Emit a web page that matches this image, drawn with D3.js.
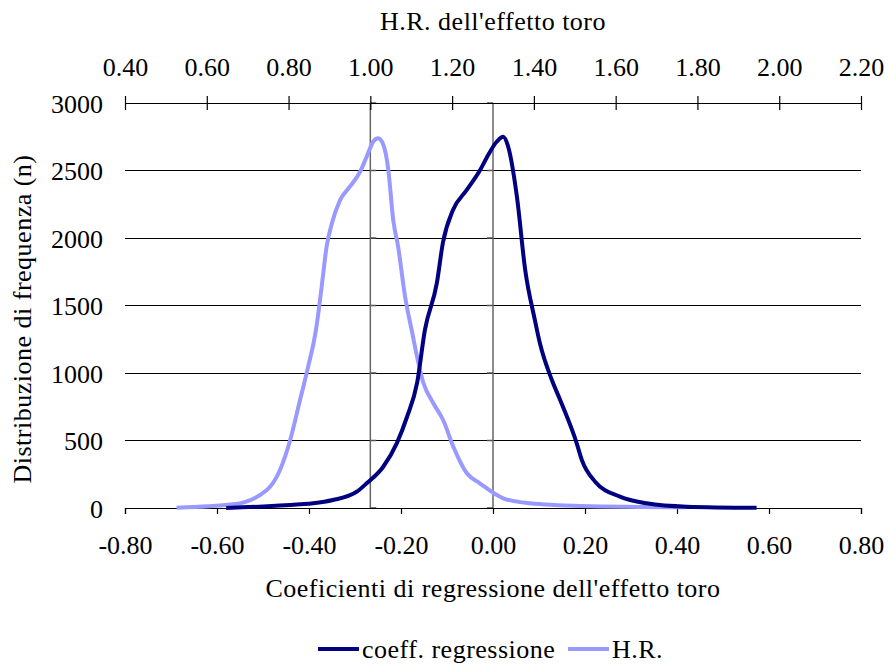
<!DOCTYPE html>
<html>
<head>
<meta charset="utf-8">
<script src="https://cdn.jsdelivr.net/npm/d3@7/dist/d3.min.js"></script>
<style>
  html, body { margin: 0; padding: 0; background: #fff; }
  svg text { font-family: "Liberation Serif", "DejaVu Serif", serif !important; fill: #000; }
  .title { letter-spacing: 0.5px; }
</style>
</head>
<body>
<svg id="chart" width="889" height="666"></svg>
<script>
// Regression coefficient distribution (bottom axis)
const coefX = [-0.58, -0.42, -0.391, -0.348, -0.296, -0.274, -0.239, -0.209, -0.187, -0.165, -0.148, -0.122, -0.109, -0.087, -0.057, -0.028, -0.014, 0.008, 0.022, 0.033, 0.052, 0.070, 0.091, 0.102, 0.128, 0.146, 0.182, 0.193, 0.222, 0.276, 0.334, 0.421, 0.573];
const coefN = [0, 27, 35, 59, 121, 185, 304, 481, 674, 926, 1319, 1667, 1963, 2207, 2356, 2504, 2593, 2713, 2750, 2676, 2306, 1763, 1393, 1220, 948, 800, 479, 356, 195, 84, 35, 10, 2];

// Hazard ratio distribution (top axis)
const hrX = [0.526, 0.665, 0.747, 0.779, 0.804, 0.828, 0.848, 0.867, 0.881, 0.893, 0.906, 0.926, 0.950, 0.975, 0.991, 1.007, 1.019, 1.032, 1.044, 1.056, 1.068, 1.085, 1.101, 1.130, 1.154, 1.178, 1.203, 1.236, 1.268, 1.325, 1.39, 1.513, 1.774];
const hrN = [2, 27, 133, 281, 504, 800, 1047, 1319, 1639, 1935, 2109, 2281, 2380, 2491, 2602, 2713, 2738, 2689, 2504, 2133, 1935, 1565, 1319, 924, 776, 652, 454, 257, 183, 72, 35, 15, 5];

const bottomTicks = [-0.8, -0.6, -0.4, -0.2, 0, 0.2, 0.4, 0.6, 0.8];
const topTicks = [0.4, 0.6, 0.8, 1.0, 1.2, 1.4, 1.6, 1.8, 2.0, 2.2];
const yTicks = [0, 500, 1000, 1500, 2000, 2500, 3000];

const seriesNames = ["coeff. regressione", "H.R."];
const seriesColors = ["#000080", "#9999ff"];

const plotLeft = 125, plotRight = 861, plotTop = 103, plotBottom = 508;
const svg = d3.select("#chart");
const FONT = 26;
const fmt2 = d => d3.format(".2f")(d).replace("\u2212", "-");

const xB = d3.scaleLinear().domain([-0.8, 0.8]).range([plotLeft, plotRight]);
const xT = d3.scaleLinear().domain([0.4, 2.2]).range([plotLeft, plotRight]);
const y = d3.scaleLinear().domain([0, 3000]).range([plotBottom, plotTop]);

// horizontal gridlines
svg.append("g").selectAll("line").data(yTicks.filter(d => d > 0 && d < 3000)).join("line")
  .attr("x1", plotLeft).attr("x2", plotRight)
  .attr("y1", d => y(d)).attr("y2", d => y(d))
  .attr("stroke", "#000").attr("stroke-width", 1).attr("shape-rendering", "crispEdges");

// y tick labels
svg.append("g").selectAll("text").data(yTicks).join("text")
  .attr("x", 103).attr("y", d => y(d))
  .attr("dy", "0.38em")
  .attr("text-anchor", "end")
  .attr("font-size", FONT)
  .text(d => d);

// vertical value axes crossing at coef = 0 and H.R. = 1
function valueAxis(xpos, dir) {
  const g = svg.append("g");
  g.append("line").attr("x1", xpos).attr("x2", xpos).attr("y1", plotTop).attr("y2", plotBottom)
    .attr("stroke", "#666").attr("stroke-width", 1.5);
  g.selectAll("line.t").data(yTicks).join("line").attr("class", "t")
    .attr("x1", xpos).attr("x2", xpos + dir * 6)
    .attr("y1", d => y(d)).attr("y2", d => y(d))
    .attr("stroke", "#555").attr("stroke-width", 1.5);
}
valueAxis(xB(0), -1);
valueAxis(xT(1.0), 1);

// bottom axis
const gB = svg.append("g").attr("transform", `translate(0,${plotBottom})`)
  .call(d3.axisBottom(xB).tickValues(bottomTicks).tickSize(6).tickPadding(22).tickFormat(fmt2));
gB.attr("font-family", null);
gB.select(".domain").attr("stroke", "#000").attr("stroke-width", 1.2);
gB.selectAll(".tick line").attr("stroke", "#000").attr("stroke-width", 1.2);
gB.selectAll(".tick text").attr("font-size", FONT).attr("dy", "0.71em");

// top axis (ticks crossing the line)
const gT = svg.append("g").attr("transform", `translate(0,${plotTop})`)
  .call(d3.axisTop(xT).tickValues(topTicks).tickSizeInner(7).tickSizeOuter(0).tickPadding(20).tickFormat(fmt2));
gT.attr("font-family", null);
gT.select(".domain").attr("stroke", "#000").attr("stroke-width", 1.2);
gT.selectAll(".tick line").attr("stroke", "#000").attr("stroke-width", 1.2).attr("y2", -7).attr("y1", 7);
gT.selectAll(".tick text").attr("font-size", FONT);

// curves
const lineB = d3.line().x((d, i) => xB(coefX[i])).y(d => y(d)).curve(d3.curveMonotoneX);
const lineT = d3.line().x((d, i) => xT(hrX[i])).y(d => y(d)).curve(d3.curveMonotoneX);

svg.append("path").datum(hrN).attr("d", lineT)
  .attr("fill", "none").attr("stroke", seriesColors[1]).attr("stroke-width", 4)
  .attr("stroke-linejoin", "round");
svg.append("path").datum(coefN).attr("d", lineB)
  .attr("fill", "none").attr("stroke", seriesColors[0]).attr("stroke-width", 4)
  .attr("stroke-linejoin", "round");

// axis titles
svg.append("text").attr("class", "title").attr("x", 493).attr("y", 30).attr("text-anchor", "middle")
  .attr("font-size", FONT).text("H.R. dell'effetto toro");
svg.append("text").attr("class", "title").attr("x", 493).attr("y", 597).attr("text-anchor", "middle")
  .attr("font-size", FONT).text("Coeficienti di regressione dell'effetto toro");
svg.append("text").attr("class", "title").attr("transform", "translate(31,319) rotate(-90)").attr("text-anchor", "middle")
  .attr("font-size", FONT).text("Distribuzione di frequenza (n)");

// legend
const legendItems = [
  { name: seriesNames[0], color: seriesColors[0], x: 318 },
  { name: seriesNames[1], color: seriesColors[1], x: 568 }
];
const lg = svg.append("g").selectAll("g").data(legendItems).join("g")
  .attr("transform", d => `translate(${d.x},649)`);
lg.append("line").attr("x1", 0).attr("x2", 41).attr("y1", 0).attr("y2", 0)
  .attr("stroke", d => d.color).attr("stroke-width", 4);
lg.append("text").attr("class", "title").attr("x", 44).attr("y", 0).attr("dy", "0.33em")
  .attr("font-size", FONT).text(d => d.name);
</script>
</body>
</html>
